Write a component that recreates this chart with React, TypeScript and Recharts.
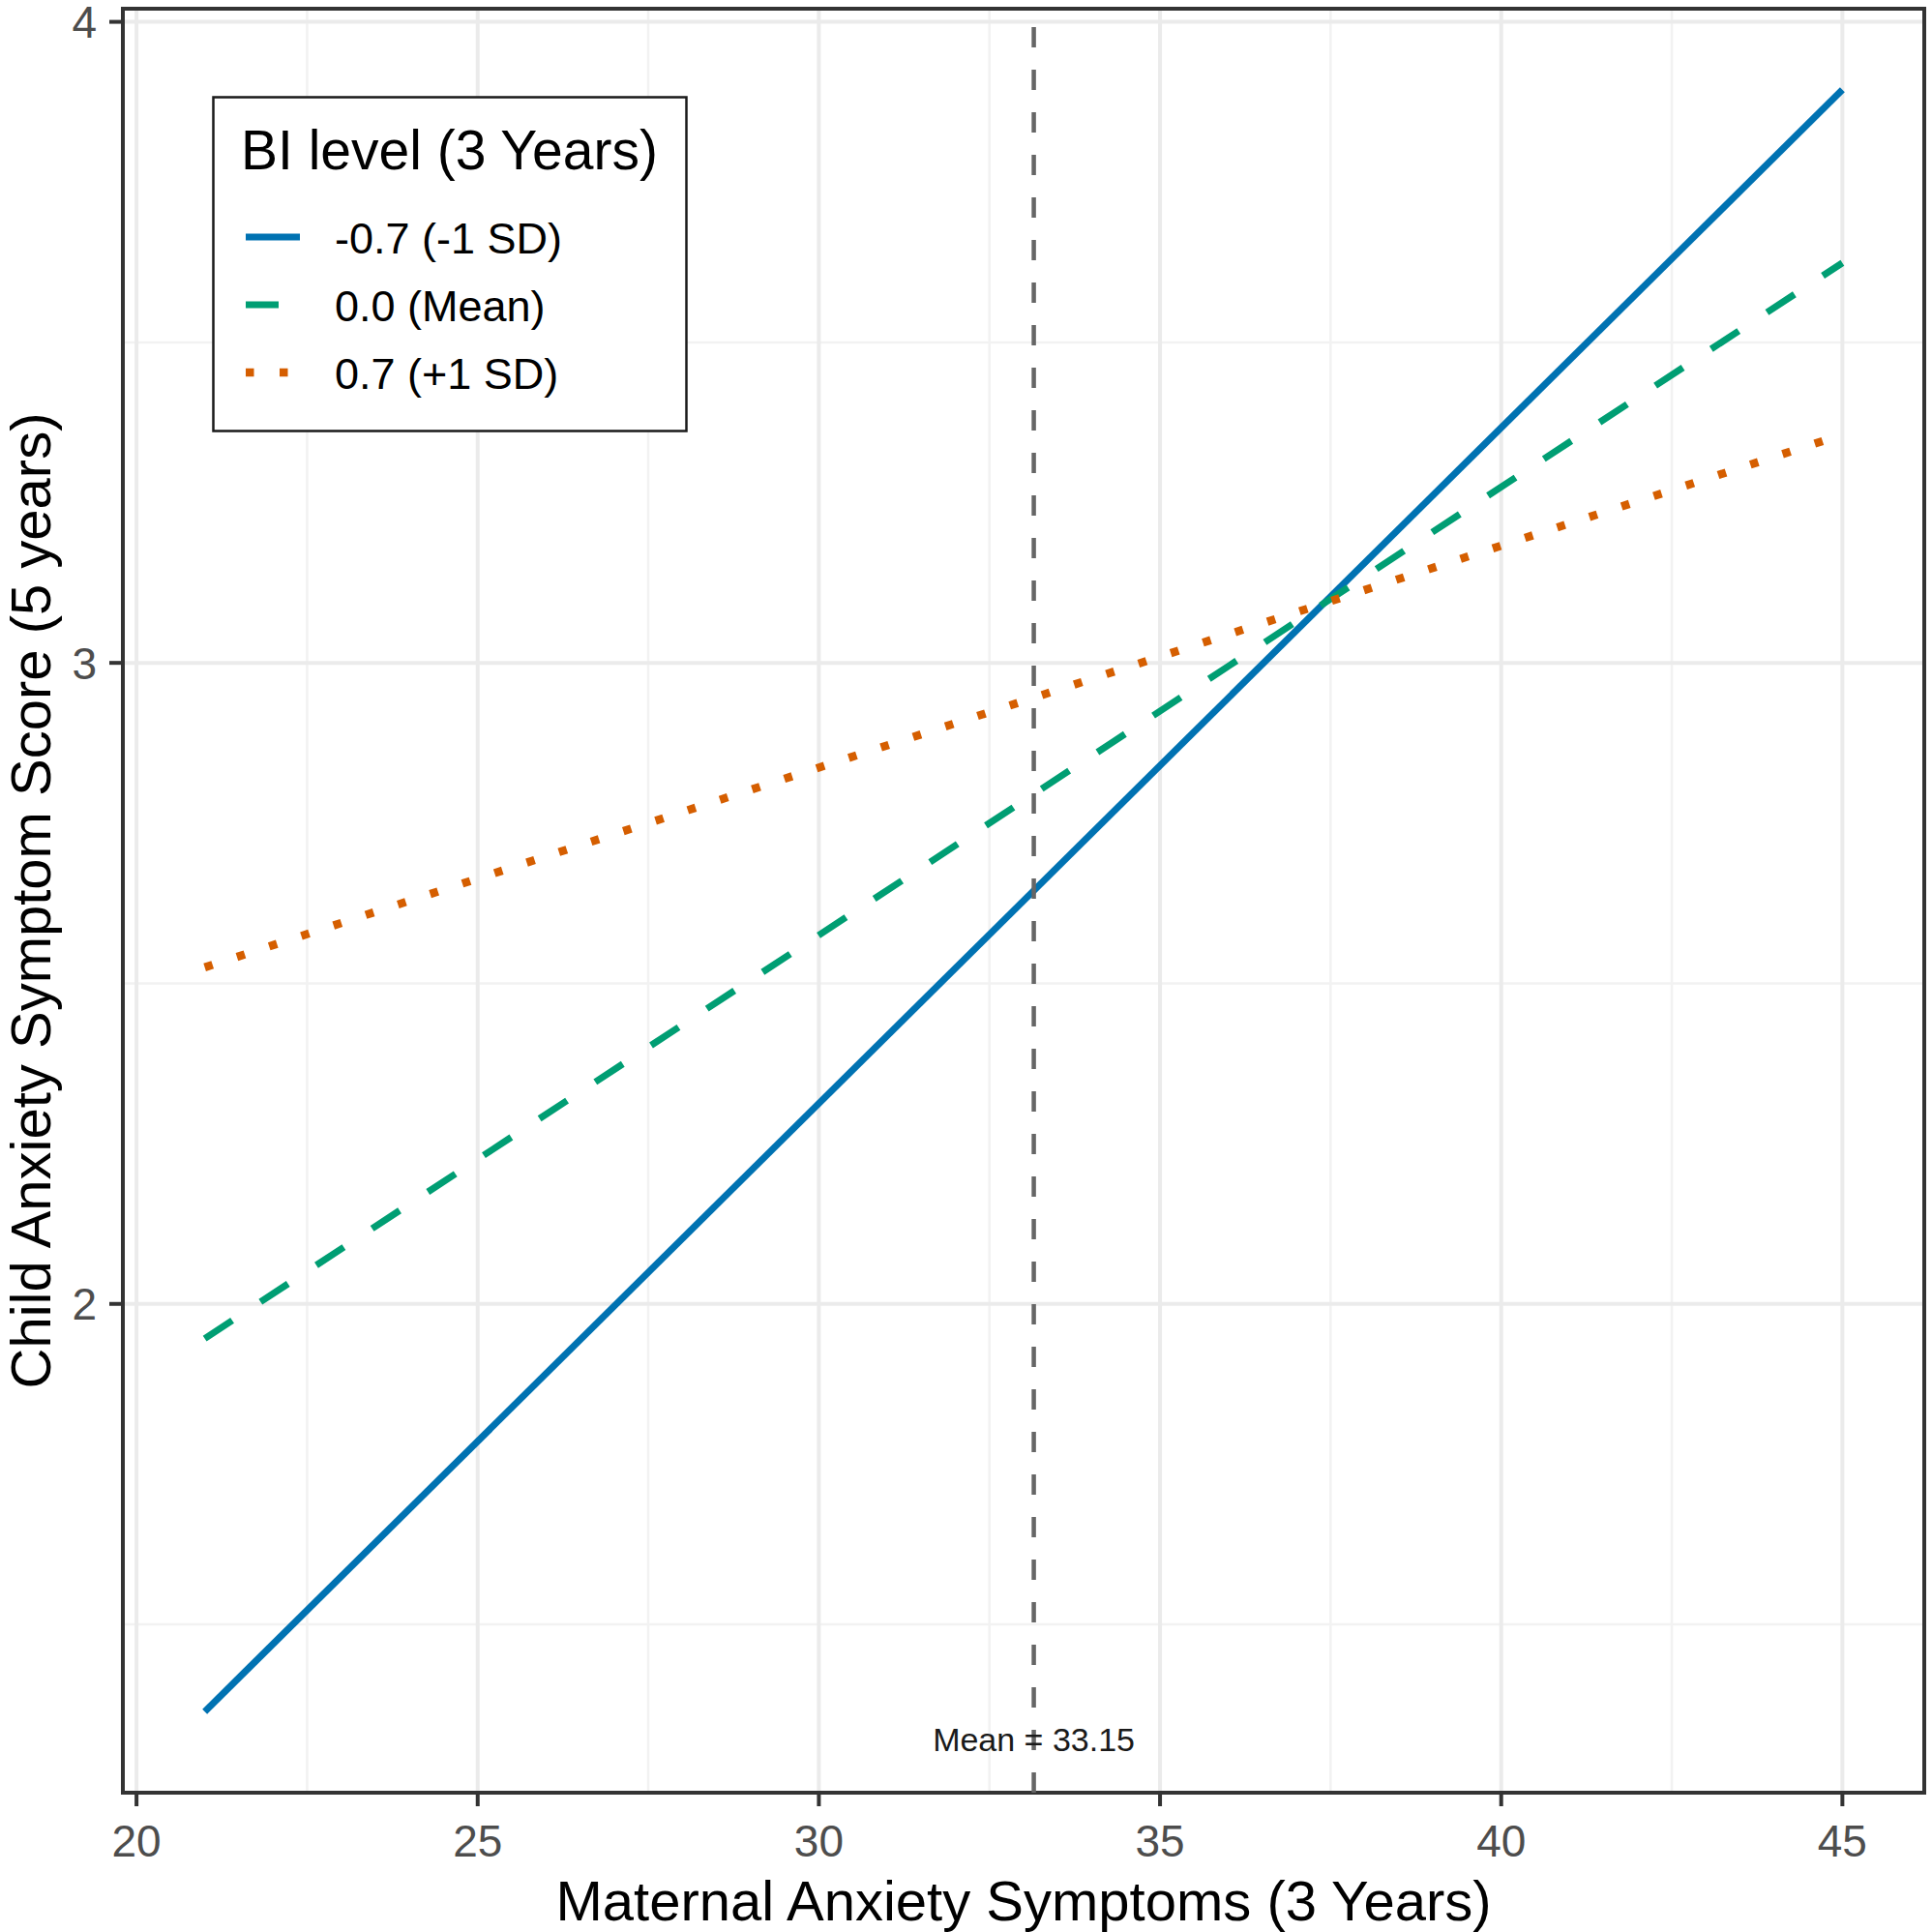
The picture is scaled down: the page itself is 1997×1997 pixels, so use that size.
import {
    LineChart,
    Line,
    XAxis,
    YAxis,
    CartesianGrid,
    ReferenceLine,
    ReferenceArea,
    Legend,
    Label,
} from "recharts";

// values
const maternalAnxiety = [21, 45];
const lowBI = [1.364, 3.894];
const meanBI = [1.946, 3.624];
const highBI = [2.525, 3.356];

const xTicks = [20, 25, 30, 35, 40, 45];
const xMinor = [22.5, 27.5, 32.5, 37.5, 42.5];
const yTicks = [2, 3, 4];
const yMinor = [1.5, 2.5, 3.5];
const xDomain = [19.8, 46.2];
const yDomain = [1.2375, 4.0205];
const meanMaternal = 33.15;

const legendTitle = "BI level (3 Years)";
const seriesLabels = ["-0.7 (-1 SD)", "0.0 (Mean)", "0.7 (+1 SD)"];

const FONT = "'Liberation Sans', Arial, Helvetica, sans-serif";

const series = [
    { key: "low", name: seriesLabels[0], color: "#0072B2", dash: undefined as string | undefined, width: 7 },
    { key: "mean", name: seriesLabels[1], color: "#009E73", dash: "34 35", width: 7 },
    { key: "high", name: seriesLabels[2], color: "#D55E00", dash: "8.5 26.5", width: 8.5 },
];

const data = maternalAnxiety.map((x, i) => ({
    x,
    low: lowBI[i],
    mean: meanBI[i],
    high: highBI[i],
}));

const LegendBox = () => (
    <svg width={492} height={348} style={{ display: "block" }}>
        <rect x={1.5} y={1.5} width={489} height={345} fill="#fff" stroke="#1a1a1a" strokeWidth={2.5} />
        <text x={30} y={76} fontSize={57} fontFamily={FONT} fill="#000">
            {legendTitle}
        </text>
        {series.map((s, i) => {
            const cy = 146 + i * 70;
            return (
                <g key={s.key}>
                    <line
                        x1={35}
                        x2={91}
                        y1={cy}
                        y2={cy}
                        stroke={s.color}
                        strokeWidth={s.width}
                        strokeDasharray={s.dash}
                    />
                    <text x={127} y={cy + 17} fontSize={45} fontFamily={FONT} fill="#000">
                        {s.name}
                    </text>
                </g>
            );
        })}
    </svg>
);

const XTitle = ({ viewBox }: any) => {
    const vb = viewBox || { x: 127, y: 1853, width: 1862, height: 144 };
    return (
        <text
            x={vb.x + vb.width / 2}
            y={vb.y + vb.height - 12}
            textAnchor="middle"
            fontSize={58}
            fontFamily={FONT}
            fill="#000"
        >
            Maternal Anxiety Symptoms (3 Years)
        </text>
    );
};

const YTitle = ({ viewBox }: any) => {
    const vb = viewBox || { x: 0, y: 9, width: 127, height: 1843 };
    const cx = vb.x + 31;
    const cy = vb.y + vb.height / 2;
    return (
        <text
            x={cx}
            y={cy}
            dy="0.355em"
            transform={`rotate(-90, ${cx}, ${cy})`}
            textAnchor="middle"
            fontSize={58}
            fontFamily={FONT}
            fill="#000"
        >
            Child Anxiety Symptom Score (5 years)
        </text>
    );
};

const MeanLabel = ({ viewBox }: any) => {
    if (!viewBox) return null;
    return (
        <text
            x={viewBox.x}
            y={viewBox.y + viewBox.height - 43}
            textAnchor="middle"
            fontSize={34}
            fontFamily={FONT}
            fill="#1a1a1a"
        >
            {`Mean = ${meanMaternal}`}
        </text>
    );
};

export default function App() {
    return (
        <div style={{ position: "absolute", left: 0, top: 0, width: 1997, height: 1997, background: "#fff" }}>
            <LineChart
                width={1997}
                height={1997}
                data={data}
                margin={{ top: 9, right: 8, left: 0, bottom: 0 }}
            >
                <CartesianGrid
                    horizontalValues={yMinor}
                    verticalValues={xMinor}
                    stroke="#f2f2f2"
                    strokeWidth={2.5}
                />
                <CartesianGrid
                    horizontalValues={yTicks}
                    verticalValues={xTicks}
                    stroke="#ebebeb"
                    strokeWidth={4}
                />
                <XAxis
                    dataKey="x"
                    type="number"
                    domain={xDomain}
                    ticks={xTicks}
                    interval={0}
                    allowDataOverflow
                    height={144}
                    axisLine={false}
                    tickSize={14}
                    tickMargin={19}
                    tickLine={{ stroke: "#333", strokeWidth: 4 }}
                    tick={{ fill: "#4d4d4d", fontSize: 46, fontFamily: FONT }}
                >
                    <Label content={<XTitle />} />
                </XAxis>
                <YAxis
                    type="number"
                    domain={yDomain}
                    ticks={yTicks}
                    interval={0}
                    allowDataOverflow
                    width={127}
                    axisLine={false}
                    tickSize={14}
                    tickMargin={13}
                    tickLine={{ stroke: "#333", strokeWidth: 4 }}
                    tick={{ fill: "#4d4d4d", fontSize: 46, fontFamily: FONT }}
                >
                    <Label content={<YTitle />} />
                </YAxis>
                {series.map((s) => (
                    <Line
                        key={s.key}
                        dataKey={s.key}
                        name={s.name}
                        type="linear"
                        stroke={s.color}
                        strokeWidth={s.width}
                        strokeDasharray={s.dash}
                        strokeLinecap="butt"
                        dot={false}
                        activeDot={false}
                        isAnimationActive={false}
                    />
                ))}
                <ReferenceLine
                    x={meanMaternal}
                    stroke="#666666"
                    strokeWidth={4.5}
                    strokeDasharray="21 23"
                    label={<MeanLabel />}
                />
                <ReferenceArea
                    x1={xDomain[0]}
                    x2={xDomain[1]}
                    y1={yDomain[0]}
                    y2={yDomain[1]}
                    fill="none"
                    fillOpacity={0}
                    stroke="#333"
                    strokeWidth={4}
                    ifOverflow="visible"
                />
                <Legend
                    layout="horizontal"
                    verticalAlign="middle"
                    align="center"
                    content={<LegendBox />}
                    wrapperStyle={{ left: 219, top: 99, width: 492, height: 348 }}
                />
            </LineChart>
        </div>
    );
}
